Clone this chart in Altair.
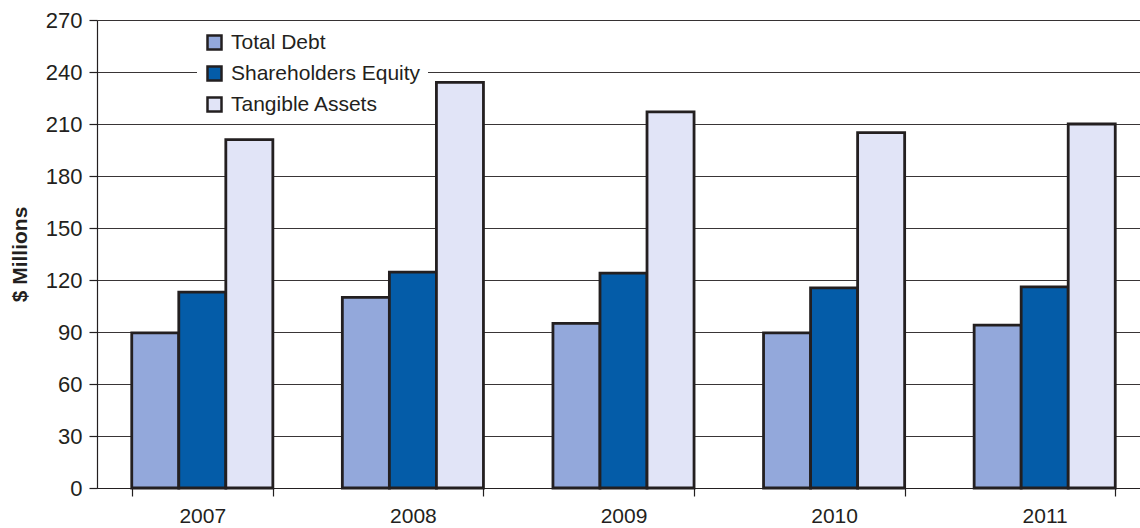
import altair as alt
import pandas as pd

years = ["2007", "2008", "2009", "2010", "2011"]
series = ["Total Debt", "Shareholders Equity", "Tangible Assets"]
total_debt = [89.5, 110, 95, 89.5, 94]
equity = [113, 124.5, 124, 115.5, 116]
tangible = [201, 234, 217, 205, 210]
colors = ["#93a8db", "#045ca8", "#e1e4f7"]
y_ticks = [0, 30, 60, 90, 120, 150, 180, 210, 240, 270]

rows = []
for s, vals in zip(series, [total_debt, equity, tangible]):
    for yr, v in zip(years, vals):
        rows.append({"year": yr, "series": s, "value": v})
df = pd.DataFrame(rows)

FONT = "Liberation Sans"
INK = "#231f20"

chart = alt.Chart(df).mark_bar(stroke=INK, strokeWidth=2.8).encode(
    x=alt.X("year:N", sort=years,
            scale=alt.Scale(range=[0, 1053], paddingInner=0.33, paddingOuter=0.165),
            axis=alt.Axis(title=None, labelAngle=0, tickBand="extent", tickSize=8,
                          labelPadding=9, labelFontSize=21, labelFont=FONT,
                          labelColor=INK, domainColor=INK, tickColor=INK,
                          domainWidth=1.2, tickWidth=1.2, grid=False)),
    xOffset=alt.XOffset("series:N", sort=series, scale=alt.Scale(paddingInner=0, paddingOuter=0)),
    y=alt.Y("value:Q",
            scale=alt.Scale(domain=[0, 270], nice=False),
            axis=alt.Axis(title="$ Millions", values=y_ticks, tickSize=8, labelPadding=7,
                          labelFontSize=22, labelFont=FONT, labelColor=INK,
                          titleFont=FONT, titleFontSize=21, titleFontWeight="bold",
                          titleColor=INK, titleX=-77, titleY=234, titleAngle=270,
                          titleAlign="center", titleBaseline="middle",
                          domainColor=INK, tickColor=INK, domainWidth=1.2, tickWidth=1.2,
                          grid=True, gridColor=INK, gridWidth=1, gridOpacity=0.9)),
    color=alt.Color("series:N", sort=series,
                    scale=alt.Scale(domain=series, range=colors),
                    legend=alt.Legend(title=None, orient="none", legendX=100, legendY=5,
                                      fillColor="white", padding=7, symbolType="square",
                                      symbolSize=196, symbolStrokeColor=INK,
                                      symbolStrokeWidth=2.5, symbolOpacity=1,
                                      labelFontSize=21, labelFont=FONT, labelColor=INK,
                                      labelLimit=400, labelOffset=6, rowPadding=6)),
).properties(
    width=1043, height=468,
    autosize=alt.AutoSizeParams(type="none"),
    padding={"left": 97, "top": 20, "right": 0, "bottom": 40},
).configure_view(stroke=None).configure(background="white")

chart.save("out.html", embed_options={"renderer": "svg", "actions": False})
